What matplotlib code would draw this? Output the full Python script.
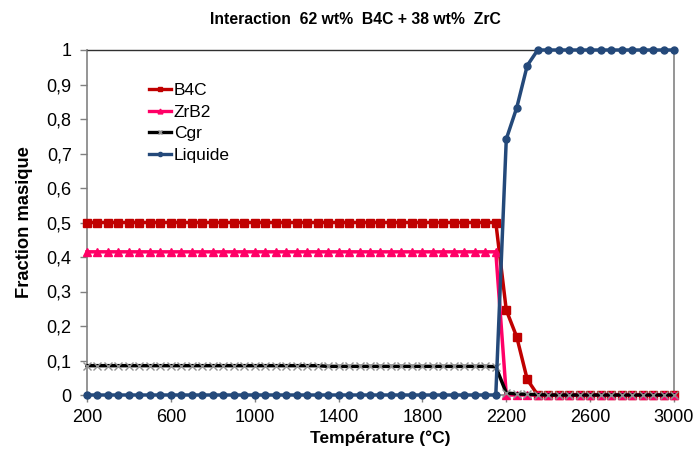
import matplotlib
matplotlib.use("Agg")
import matplotlib.pyplot as plt
from matplotlib.ticker import FixedLocator, FuncFormatter

# Data
temperature = [200, 250, 300, 350, 400, 450, 500, 550, 600, 650, 700, 750, 800, 850, 900, 950,
               1000, 1050, 1100, 1150, 1200, 1250, 1300, 1350, 1400, 1450, 1500, 1550, 1600, 1650,
               1700, 1750, 1800, 1850, 1900, 1950, 2000, 2050, 2100, 2150, 2200, 2250, 2300, 2350,
               2400, 2450, 2500, 2550, 2600, 2650, 2700, 2750, 2800, 2850, 2900, 2950, 3000]

b4c = [0.5, 0.5, 0.5, 0.5, 0.5, 0.5, 0.5, 0.5, 0.5, 0.5, 0.5, 0.5, 0.5, 0.5, 0.5, 0.5,
       0.5, 0.5, 0.5, 0.5, 0.5, 0.5, 0.5, 0.5, 0.5, 0.5, 0.5, 0.5, 0.5, 0.5,
       0.5, 0.5, 0.5, 0.5, 0.5, 0.5, 0.5, 0.5, 0.5, 0.5, 0.246, 0.168, 0.045, 0.0,
       0.0, 0.0, 0.0, 0.0, 0.0, 0.0, 0.0, 0.0, 0.0, 0.0, 0.0, 0.0, 0.0]

zrb2 = [0.415, 0.415, 0.415, 0.415, 0.415, 0.415, 0.415, 0.415, 0.415, 0.415, 0.415, 0.415, 0.415, 0.415, 0.415, 0.415,
        0.415, 0.415, 0.415, 0.415, 0.415, 0.415, 0.415, 0.415, 0.415, 0.415, 0.415, 0.415, 0.415, 0.415,
        0.415, 0.415, 0.415, 0.415, 0.415, 0.415, 0.415, 0.415, 0.415, 0.415, 0.0, 0.0, 0.0, 0.0,
        0.0, 0.0, 0.0, 0.0, 0.0, 0.0, 0.0, 0.0, 0.0, 0.0, 0.0, 0.0, 0.0]

cgr = [0.085, 0.085, 0.085, 0.085, 0.085, 0.085, 0.085, 0.085, 0.085, 0.085, 0.085, 0.085, 0.085, 0.085, 0.085, 0.085,
       0.085, 0.085, 0.085, 0.085, 0.085, 0.085, 0.085, 0.083, 0.083, 0.083, 0.083, 0.083, 0.083, 0.083,
       0.083, 0.083, 0.083, 0.083, 0.083, 0.083, 0.083, 0.083, 0.083, 0.082, 0.006, 0.003, 0.002, 0.001,
       0.0, 0.0, 0.0, 0.0, 0.0, 0.0, 0.0, 0.0, 0.0, 0.0, 0.0, 0.0, 0.0]

liquide = [0.0, 0.0, 0.0, 0.0, 0.0, 0.0, 0.0, 0.0, 0.0, 0.0, 0.0, 0.0, 0.0, 0.0, 0.0, 0.0,
           0.0, 0.0, 0.0, 0.0, 0.0, 0.0, 0.0, 0.0, 0.0, 0.0, 0.0, 0.0, 0.0, 0.0,
           0.0, 0.0, 0.0, 0.0, 0.0, 0.0, 0.0, 0.0, 0.0, 0.0, 0.742, 0.833, 0.955, 1.0,
           1.0, 1.0, 1.0, 1.0, 1.0, 1.0, 1.0, 1.0, 1.0, 1.0, 1.0, 1.0, 1.0]

series_labels = ["B4C", "ZrB2", "Cgr", "Liquide"]
x_ticks = [200, 600, 1000, 1400, 1800, 2200, 2600, 3000]
y_ticks = [0, 0.1, 0.2, 0.3, 0.4, 0.5, 0.6, 0.7, 0.8, 0.9, 1.0]

title = "Interaction  62 wt%  B4C + 38 wt%  ZrC"
xlabel = "Température (°C)"
ylabel = "Fraction masique"

plt.rcParams['font.family'] = ['Liberation Sans', 'DejaVu Sans']

fig = plt.figure(figsize=(6.93, 4.53), dpi=100)
ax = fig.add_axes([87 / 693, 1 - 395 / 453, (674 - 87) / 693, (395 - 50) / 453])

ax.plot(temperature, b4c, color="#C00000", lw=2.5, marker="s", ms=5.2, label=series_labels[0],
        zorder=3, clip_on=False)
ax.plot(temperature, zrb2, color="#FF0066", lw=2.5, marker="^", ms=5.8, label=series_labels[1],
        zorder=4, clip_on=False)
ax.plot(temperature, cgr, color="black", lw=2.5, marker="x", ms=5.2, mec="#909090", mew=1.0,
        label=series_labels[2], zorder=5, clip_on=False)
ax.plot(temperature, liquide, color="#24497A", lw=2.5, marker="o", ms=5, label=series_labels[3],
        zorder=6, clip_on=False)

ax.set_xlim(200, 3000)
ax.set_ylim(0, 1)
ax.xaxis.set_major_locator(FixedLocator(x_ticks))
ax.yaxis.set_major_locator(FixedLocator(y_ticks))

def comma_fmt(v, pos):
    if abs(v) < 1e-9:
        return "0"
    if abs(v - 1) < 1e-9:
        return "1"
    return ("%.1f" % v).replace(".", ",")

ax.yaxis.set_major_formatter(FuncFormatter(comma_fmt))
ax.tick_params(axis="both", labelsize=13, direction="out", length=5, width=1, color="#808080")
ax.tick_params(axis="x", pad=5)
ax.tick_params(axis="y", pad=6)

for side in ["left", "right", "bottom"]:
    ax.spines[side].set_color("#8C8C8C")
    ax.spines[side].set_linewidth(1.3)
    ax.spines[side].set_zorder(1)
ax.spines["top"].set_color("#303030")
ax.spines["top"].set_linewidth(1.0)
ax.spines["top"].set_zorder(1)

ax.set_xlabel(xlabel, fontsize=12.5, fontweight="bold", labelpad=3)
ax.set_ylabel(ylabel, fontsize=13.2, fontweight="bold", labelpad=10)
fig.text(0.513, 0.958, title, ha="center", va="center", fontsize=11.3, fontweight="bold")

leg = ax.legend(loc="upper left", bbox_to_anchor=(0.105, 0.905), frameon=False, fontsize=12.5,
                handlelength=1.3, handletextpad=0.15, labelspacing=0.38, borderaxespad=0,
                borderpad=0, markerscale=0.6)
for line in leg.get_lines():
    line.set_linewidth(2.4)

fig.savefig("out.png", dpi=100)
